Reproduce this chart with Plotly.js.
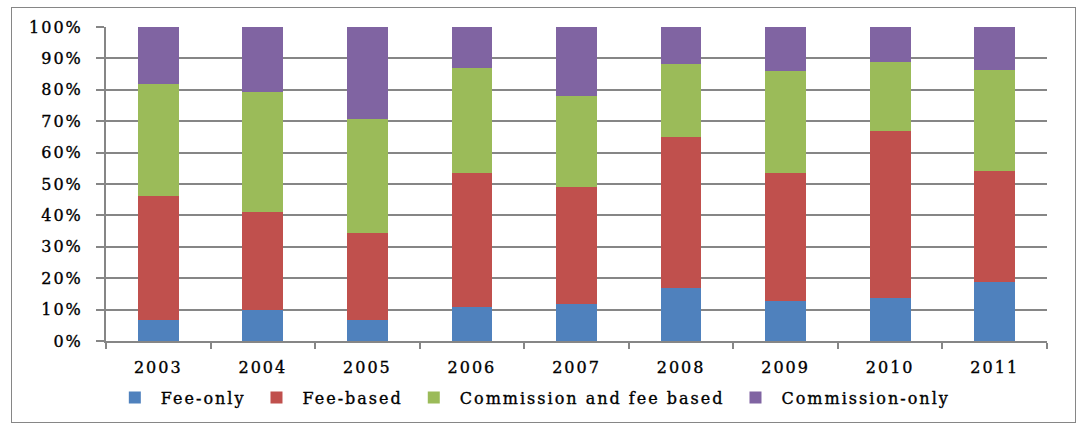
<!DOCTYPE html>
<html>
<head>
<meta charset="utf-8">
<script src="https://cdn.plot.ly/plotly-3.0.1.min.js"></script>
<style>
  html, body { margin: 0; padding: 0; background: #fff; }
  #wrap { position: relative; width: 1084px; height: 429px; }
  #chart { position: absolute; left: 0; top: 0; width: 1084px; height: 429px; }
  #frame { position: absolute; left: 11px; top: 7px; width: 1063px; height: 414px; border: 1px solid #868686; pointer-events: none; }
  text { letter-spacing: 2px; stroke: #000; stroke-width: 0.35px; }
</style>
</head>
<body>
<div id="wrap">
  <div id="chart"></div>
  <div id="frame"></div>
</div>
<script>
const years = ['2003', '2004', '2005', '2006', '2007', '2008', '2009', '2010', '2011'];
const feeOnly = [6.6, 9.9, 6.6, 10.7, 11.7, 16.9, 12.6, 13.7, 18.8];
const feeBased = [39.6, 31.1, 27.7, 42.7, 37.3, 48.0, 40.8, 53.1, 35.2];
const commissionAndFee = [35.5, 38.2, 36.3, 33.4, 28.9, 23.2, 32.5, 21.95, 32.2];
const commissionOnly = [18.3, 20.8, 29.4, 13.2, 22.1, 11.9, 14.1, 11.25, 13.8];
const yTickVals = [0, 10, 20, 30, 40, 50, 60, 70, 80, 90, 100];
const yTickText = ['0%', '10%', '20%', '30%', '40%', '50%', '60%', '70%', '80%', '90%', '100%'];

const seriesNames = ['Fee-only', 'Fee-based', 'Commission and fee based', 'Commission-only'];
const seriesColors = ['#4F81BD', '#C0504D', '#9BBB59', '#8064A2'];
const seriesValues = [feeOnly, feeBased, commissionAndFee, commissionOnly];

const traces = seriesValues.map((vals, i) => ({
  type: 'bar',
  name: seriesNames[i],
  x: years,
  y: vals,
  marker: { color: seriesColors[i], line: { width: 0 } },
  hoverinfo: 'x+y+name'
}));

const gridColor = '#868686';
const fnt = { family: 'DejaVu Serif', size: 16, color: '#000' };
const layout = {
  width: 1084,
  height: 429,
  barmode: 'stack',
  barnorm: 'percent',
  bargap: 0.61,
  margin: { l: 106, r: 37, t: 27, b: 88, pad: 0 },
  paper_bgcolor: 'rgba(0,0,0,0)',
  plot_bgcolor: 'rgba(0,0,0,0)',
  font: fnt,
  showlegend: true,
  legend: {
    orientation: 'h',
    x: 0.003, xanchor: 'left',
    y: -0.18, yanchor: 'middle',
    itemwidth: 42,
    font: fnt,
    traceorder: 'normal'
  },
  xaxis: {
    type: 'category',
    showline: true, linecolor: gridColor, linewidth: 2,
    ticks: 'outside', tickson: 'boundaries', ticklen: 6, tickwidth: 2, tickcolor: gridColor,
    showgrid: false,
    ticklabelstandoff: 11,
    tickfont: fnt,
    fixedrange: true
  },
  yaxis: {
    range: [0, 100],
    tickvals: yTickVals,
    ticktext: yTickText,
    showline: true, linecolor: gridColor, linewidth: 2,
    ticks: 'outside', ticklen: 8, tickwidth: 2, tickcolor: gridColor,
    showgrid: true, gridcolor: gridColor, gridwidth: 2,
    zeroline: false,
    ticklabelstandoff: 10,
    tickfont: fnt,
    fixedrange: true
  }
};

Plotly.newPlot('chart', traces, layout, { displayModeBar: false, staticPlot: true });
</script>
</body>
</html>
